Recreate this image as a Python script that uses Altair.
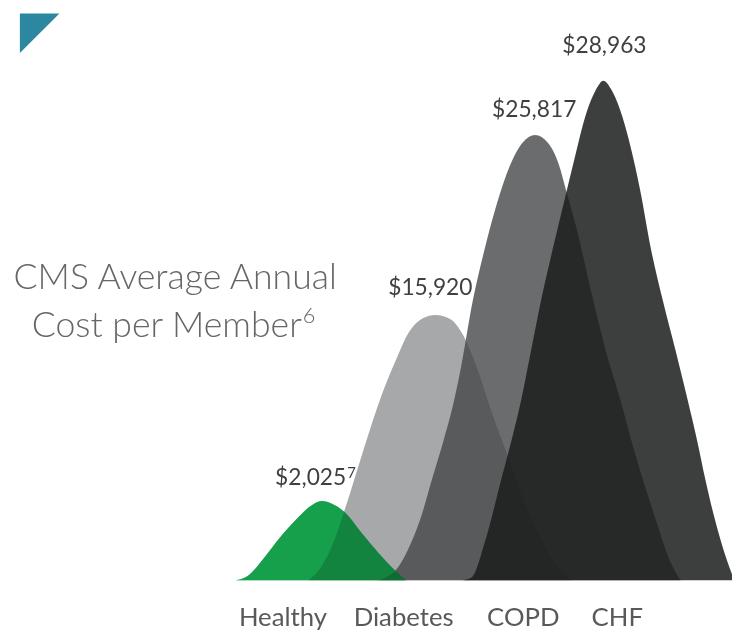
import altair as alt
import pandas as pd

# ---- values ----
categories = ["Healthy", "Diabetes", "COPD", "CHF"]
annual_cost = [2025, 15920, 25817, 28963]
cost_footnote = ["7", "", "", ""]

# outline of each peak (horizontal position, height above the baseline)
healthy_x = [238, 250, 268, 283, 300, 314, 325, 336, 347, 367, 383, 395, 410]
healthy_h = [0, 4, 24, 43, 62, 75, 80, 77, 70, 46, 27, 14, 0]

diabetes_x = [312, 325, 337, 350, 370, 385, 400, 413, 428, 440, 455, 468, 482, 497, 513, 530, 548, 563, 578]
diabetes_h = [0, 14, 38, 76, 140, 185, 222, 250, 265, 268, 264, 248, 215, 170, 126, 80, 40, 15, 0]

copd_x = [383, 392, 400, 412, 425, 437, 448, 457, 465, 478, 490, 503, 515, 528, 541,
          554, 565, 572, 583, 598, 613, 627, 640, 652, 665, 675, 688]
copd_h = [0, 4, 10, 30, 62, 103, 140, 173, 210, 283, 335, 383, 418, 442, 450,
          442, 420, 395, 355, 290, 230, 183, 135, 95, 55, 25, 0]

chf_x = [468, 477, 490, 507, 518, 527, 537, 547, 560, 572, 580, 593, 602, 610,
         618, 627, 637, 647, 658, 670, 683, 695, 705, 713, 722, 731, 740]
chf_h = [0, 3, 38, 103, 145, 183, 233, 283, 340, 390, 423, 473, 495, 505,
         496, 475, 440, 395, 335, 283, 232, 183, 140, 102, 64, 32, 6]

# cost label anchors and category label anchors
cost_label_x = [314, 435, 540, 611]
cost_label_h = [96, 288, 468, 533]
footnote_x = [351, 0, 0, 0]
footnote_h = [103, 0, 0, 0]
category_label_x = [286, 408, 529, 624]
category_label_h = [-46, -46, -46, -46]

title_lines = ["CMS Average Annual", "Cost per Member"]
title_footnote = "6"

# ---- build tables ----
def outline(xs, hs):
    return pd.DataFrame({"x": xs, "h": hs})

xs = alt.Scale(domain=[8, 740])
ys = alt.Scale(domain=[0, 575])
X = alt.X("x:Q", scale=xs, axis=None)
Y = alt.Y("h:Q", scale=ys, axis=None)

diab = alt.Chart(outline(diabetes_x, diabetes_h)).mark_area(
    interpolate="monotone", color="#a6a8aa", opacity=1).encode(x=X, y=Y)
copd = alt.Chart(outline(copd_x, copd_h)).mark_area(
    interpolate="monotone", color="#434546", opacity=0.79).encode(x=X, y=Y)
chf = alt.Chart(outline(chf_x, chf_h)).mark_area(
    interpolate="monotone", color="#1b1d1d", opacity=0.85).encode(x=X, y=Y)
healthy_mult = alt.Chart(outline(healthy_x, healthy_h)).mark_area(
    interpolate="monotone", color="#16a04b", opacity=1, blend="multiply").encode(x=X, y=Y)
healthy_top = alt.Chart(outline(healthy_x, healthy_h)).mark_area(
    interpolate="monotone", color="#16a04b", opacity=0.5).encode(x=X, y=Y)

labels = pd.DataFrame({
    "category": categories,
    "cost": [f"${v:,}" for v in annual_cost],
    "fn": cost_footnote,
    "lx": cost_label_x,
    "lh": cost_label_h,
    "fx": footnote_x,
    "fh": footnote_h,
    "cx": category_label_x,
    "ch": category_label_h,
})

cost_text = alt.Chart(labels).mark_text(
    align="center", baseline="alphabetic", font="Lato", fontSize=23, color="#3f3f3f"
).encode(x=alt.X("lx:Q", scale=xs, axis=None), y=alt.Y("lh:Q", scale=ys, axis=None), text="cost:N")

fn_text = alt.Chart(labels).transform_filter("datum.fn != ''").mark_text(
    align="left", baseline="alphabetic", font="Lato", fontSize=15, color="#3f3f3f"
).encode(x=alt.X("fx:Q", scale=xs, axis=None), y=alt.Y("fh:Q", scale=ys, axis=None), text="fn:N")

cat_text = alt.Chart(labels).mark_text(
    align="center", baseline="alphabetic", font="Lato", fontSize=26, color="#595959"
).encode(x=alt.X("cx:Q", scale=xs, axis=None), y=alt.Y("ch:Q", scale=ys, axis=None), text="category:N")

title_df = pd.DataFrame({"t": title_lines, "row": [0, 1]})
title1 = alt.Chart(title_df).transform_filter("datum.row == 0").mark_text(
    align="center", baseline="alphabetic", font="Lato", fontWeight=300, fontSize=36, color="#666666"
).encode(x=alt.value(169), y=alt.value(281), text="t:N")
title2 = alt.Chart(title_df).transform_filter("datum.row == 1").mark_text(
    align="right", baseline="alphabetic", font="Lato", fontWeight=300, fontSize=36, color="#666666"
).encode(x=alt.value(297), y=alt.value(329), text="t:N")
title_fn = alt.Chart(pd.DataFrame({"t": [title_footnote]})).mark_text(
    align="left", baseline="alphabetic", font="Lato", fontWeight=300, fontSize=22, color="#666666"
).encode(x=alt.value(298), y=alt.value(315), text="t:N")

triangle = alt.Chart(pd.DataFrame({"k": [1]})).mark_point(
    shape="M-1,-1L1,-1L-1,1Z", filled=True, opacity=1, strokeWidth=0, color="#2e87a1"
).encode(x=alt.value(32), y=alt.value(22), size=alt.value(1600))

chart = alt.layer(
    diab, copd, chf, healthy_mult, healthy_top,
    cost_text, fn_text, cat_text, title1, title2, title_fn, triangle
).properties(
    width=732, height=575, autosize="none",
    padding={"left": 0, "top": 0, "right": 0, "bottom": 51},
    background="white",
).configure_view(stroke=None)

chart.save("out.html", embed_options={"renderer": "svg", "actions": False})
